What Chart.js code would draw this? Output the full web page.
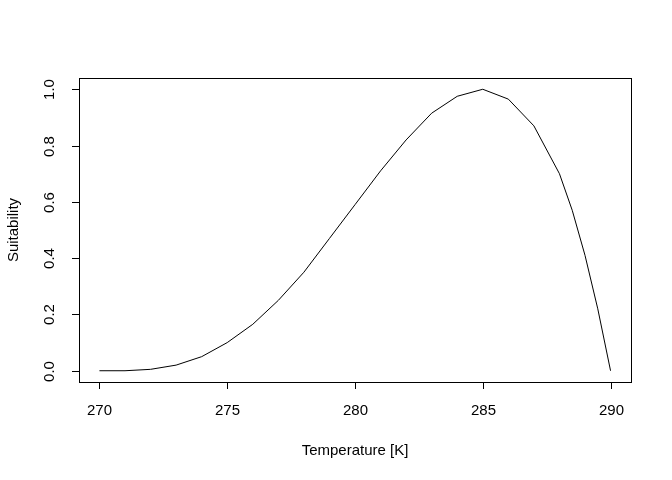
<!DOCTYPE html><html><head><script src="https://cdn.jsdelivr.net/npm/chart.js@4"></script>
<style>body{margin:0;background:#fff}</style></head><body>
<div style="width:672px;height:480px"><canvas id="c"></canvas></div>
<script>
const temps=[270,271,272,273,274,275,276,277,278,279,280,281,282,283,284,285,286,287,288,288.5,289,289.5,290];
const suit=[0,0.0,0.005,0.02,0.05,0.10,0.165,0.25,0.35,0.47,0.59,0.71,0.82,0.915,0.975,1.0,0.965,0.87,0.70,0.57,0.41,0.22,0];
const xTicks=[270,275,280,285,290];
const yTicks=[0.0,0.2,0.4,0.6,0.8,1.0];
const font='15px "Liberation Sans", Arial, sans-serif';
const axes={id:'axes',afterDraw(ch){
 const c=ch.ctx,a=ch.chartArea,xs=ch.scales.x,ys=ch.scales.y;
 c.save();c.strokeStyle='#000';c.fillStyle='#000';c.lineWidth=1;
 c.strokeRect(a.left+0.5,a.top+0.5,a.right-a.left,a.bottom-a.top);
 c.font=font;c.textAlign='center';c.textBaseline='middle';
 c.beginPath();
 xTicks.forEach(v=>{const p=Math.round(xs.getPixelForValue(v))+0.5;c.moveTo(p,a.bottom);c.lineTo(p,a.bottom+7);c.fillText(String(v),p,a.bottom+29);});
 yTicks.forEach(v=>{const p=Math.round(ys.getPixelForValue(v))+0.5;c.moveTo(a.left,p);c.lineTo(a.left-7,p);
  c.save();c.translate(a.left-29,p);c.rotate(-Math.PI/2);c.fillText(v.toFixed(1),0,0);c.restore();});
 c.stroke();
 c.fillText('Temperature [K]',(a.left+a.right)/2,451);
 c.save();c.translate(14,(a.top+a.bottom)/2);c.rotate(-Math.PI/2);c.fillText('Suitability',0,0);c.restore();
 c.restore();}};
new Chart(document.getElementById('c'),{type:'line',
 data:{datasets:[{data:temps.map((t,i)=>({x:t,y:suit[i]})),borderColor:'#000',borderWidth:1,pointRadius:0,tension:0}]},
 options:{responsive:true,maintainAspectRatio:false,animation:false,
  layout:{padding:{left:79,top:78,right:41,bottom:98}},
  plugins:{legend:{display:false},tooltip:{enabled:false}},
  scales:{x:{type:'linear',min:269.2,max:290.8,display:false},y:{min:-0.04,max:1.04,display:false}}},
 plugins:[axes]});
</script></body></html>
